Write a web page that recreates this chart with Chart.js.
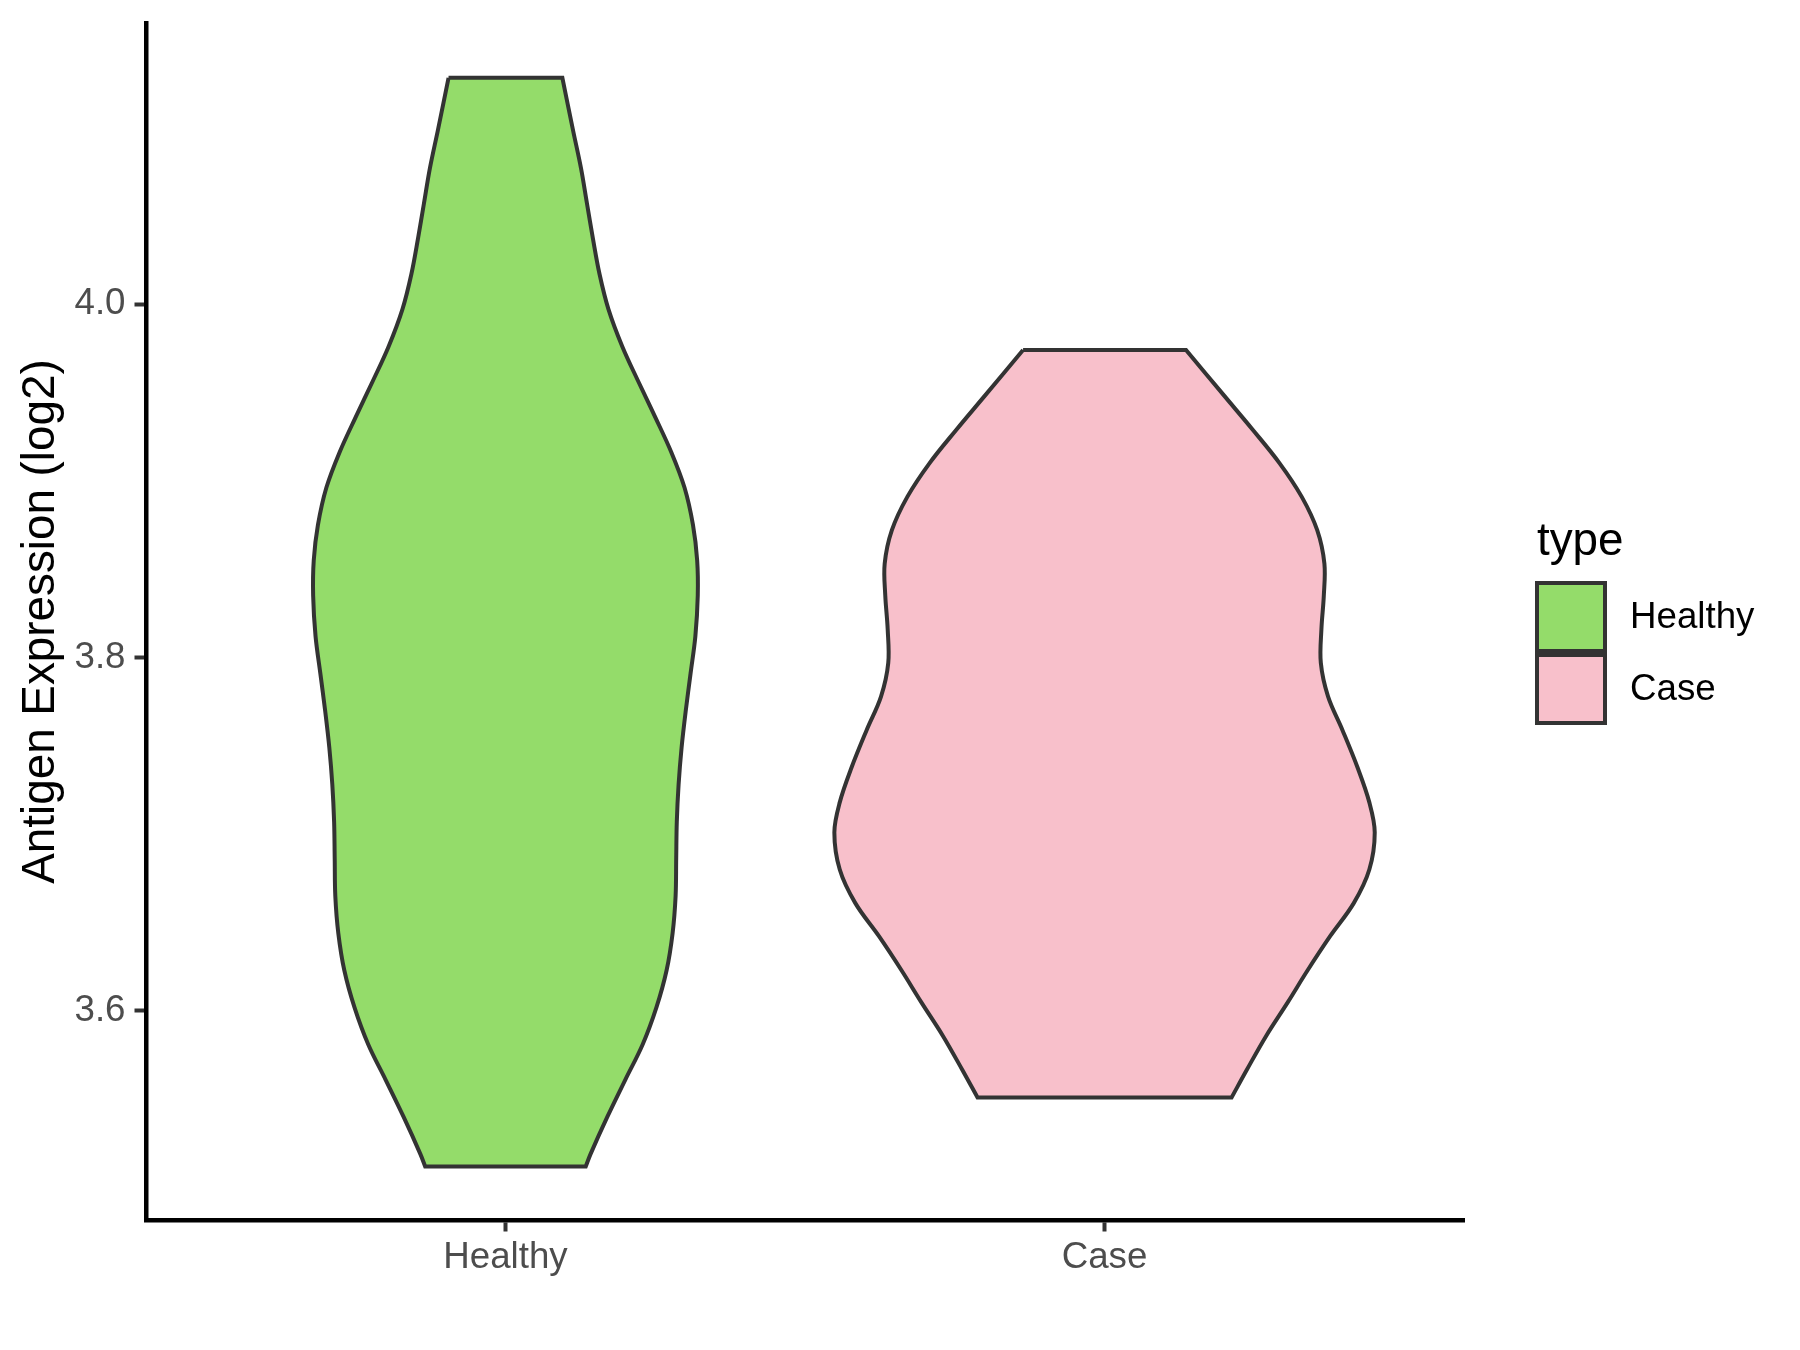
<!DOCTYPE html>
<html>
<head>
<meta charset="utf-8">
<script src="https://cdn.jsdelivr.net/npm/chart.js@4.4.1/dist/chart.umd.min.js"></script>
<style>
  html, body { margin: 0; padding: 0; background: #fff; }
  #wrap { width: 1800px; height: 1350px; position: relative; }
</style>
</head>
<body>
<div id="wrap"><canvas id="violin"></canvas></div>
<script>
// groups on the x axis
const categories = ['Healthy', 'Case'];

// violin outlines: y levels (log2 expression) and half width (in category units)
const healthyY = [4.128, 4.098, 4.077, 4.057, 4.037, 4.017, 3.997, 3.976, 3.956, 3.936,
  3.916, 3.896, 3.875, 3.855, 3.835, 3.812, 3.791, 3.770, 3.749, 3.728,
  3.707, 3.686, 3.665, 3.644, 3.623, 3.602, 3.581, 3.561, 3.540, 3.519, 3.512];
const healthyW = [0.095, 0.113, 0.126, 0.136, 0.146, 0.157, 0.172, 0.195, 0.222, 0.250,
  0.277, 0.299, 0.313, 0.320, 0.321, 0.317, 0.309, 0.301, 0.294, 0.289,
  0.286, 0.285, 0.284, 0.279, 0.269, 0.252, 0.229, 0.200, 0.170, 0.142, 0.134];

const caseY = [3.974, 3.948, 3.929, 3.910, 3.891, 3.872, 3.853, 3.835, 3.816, 3.797,
  3.778, 3.759, 3.738, 3.718, 3.701, 3.680, 3.661, 3.642, 3.623, 3.605,
  3.586, 3.567, 3.551];
const caseW = [0.136, 0.200, 0.247, 0.292, 0.329, 0.355, 0.367, 0.366, 0.362, 0.361,
  0.373, 0.397, 0.422, 0.442, 0.451, 0.442, 0.416, 0.376, 0.339, 0.306,
  0.270, 0.238, 0.212];

// y axis
const yTicks = [3.6, 3.8, 4.0];
const yMin = 3.4817, yMax = 4.159;

const fillColors = ['#94DC6A', '#F8C0CB'];
const FONT = '"Liberation Sans", Arial, Helvetica, sans-serif';

// outline: down the left side, across the bottom, up the right side, close.
// corner points are repeated so the flat ends stay straight and sharp.
function outline(pos, ys, ws) {
  const n = ys.length;
  const pts = [{ x: pos - ws[0], y: ys[0] }];
  for (let i = 0; i < n; i++) pts.push({ x: pos - ws[i], y: ys[i] });
  pts.push({ x: pos - ws[n - 1], y: ys[n - 1] });
  pts.push({ x: pos + ws[n - 1], y: ys[n - 1] });
  for (let i = n - 1; i >= 0; i--) pts.push({ x: pos + ws[i], y: ys[i] });
  pts.push({ x: pos + ws[0], y: ys[0] });
  pts.push({ x: pos - ws[0], y: ys[0] });
  return pts;
}

const violins = [
  outline(1, healthyY, healthyW),
  outline(2, caseY, caseW)
];

const datasets = categories.map((name, i) => ({
  label: name,
  data: violins[i],
  showLine: true,
  fill: 'shape',
  backgroundColor: fillColors[i],
  borderColor: '#333333',
  borderWidth: 4,
  borderJoinStyle: 'miter',
  pointRadius: 0,
  tension: 0.35
}));

// ggplot style legend on the right
const typeLegend = {
  id: 'typeLegend',
  afterDraw(chart) {
    const ctx = chart.ctx;
    const x0 = chart.chartArea.right + 73;
    ctx.save();
    ctx.fillStyle = '#000';
    ctx.font = '45.8px ' + FONT;
    ctx.textBaseline = 'alphabetic';
    ctx.fillText('type', x0, 555);
    categories.forEach((name, i) => {
      const top = 583 + i * 72;
      ctx.fillStyle = fillColors[i];
      ctx.fillRect(x0, top, 68, 68);
      ctx.strokeStyle = '#333333';
      ctx.lineWidth = 4;
      ctx.strokeRect(x0, top, 68, 68);
      ctx.fillStyle = '#000';
      ctx.font = '36.7px ' + FONT;
      ctx.textBaseline = 'middle';
      ctx.fillText(name, x0 + 93, top + 35);
    });
    ctx.restore();
  }
};

new Chart(document.getElementById('violin'), {
  type: 'scatter',
  data: { datasets },
  plugins: [typeLegend],
  options: {
    responsive: true,
    maintainAspectRatio: false,
    animation: false,
    layout: { padding: { left: 0, top: 23, right: 336, bottom: 0 } },
    plugins: {
      legend: { display: false },
      tooltip: { enabled: false }
    },
    scales: {
      x: {
        type: 'linear',
        min: 0.4,
        max: 2.6,
        afterBuildTicks: (scale) => { scale.ticks = categories.map((c, i) => ({ value: i + 1 })); },
        afterFit: (scale) => { scale.height = 130; scale.paddingLeft = 0; scale.paddingRight = 0; },
        ticks: {
          callback: (v) => categories[v - 1],
          color: '#4D4D4D',
          font: { family: FONT, size: 36.7 },
          padding: 4,
          maxRotation: 0
        },
        grid: { drawOnChartArea: false, drawTicks: true, tickLength: 11.5, tickColor: '#333333', tickWidth: 4 },
        border: { display: true, color: '#000', width: 4.5 }
      },
      y: {
        type: 'linear',
        min: yMin,
        max: yMax,
        afterBuildTicks: (scale) => { scale.ticks = yTicks.map(v => ({ value: v })); },
        afterFit: (scale) => { scale.width = 146; scale.paddingTop = 0; scale.paddingBottom = 0; },
        ticks: {
          callback: (v) => v.toFixed(1),
          color: '#4D4D4D',
          font: { family: FONT, size: 36.7 },
          padding: 9
        },
        grid: { drawOnChartArea: false, drawTicks: true, tickLength: 11.5, tickColor: '#333333', tickWidth: 4 },
        border: { display: true, color: '#000', width: 4.5 },
        title: {
          display: true,
          text: 'Antigen Expression (log2)',
          color: '#000',
          font: { family: FONT, size: 45.8 },
          padding: { top: 14, bottom: 0 }
        }
      }
    }
  }
});
</script>
</body>
</html>
